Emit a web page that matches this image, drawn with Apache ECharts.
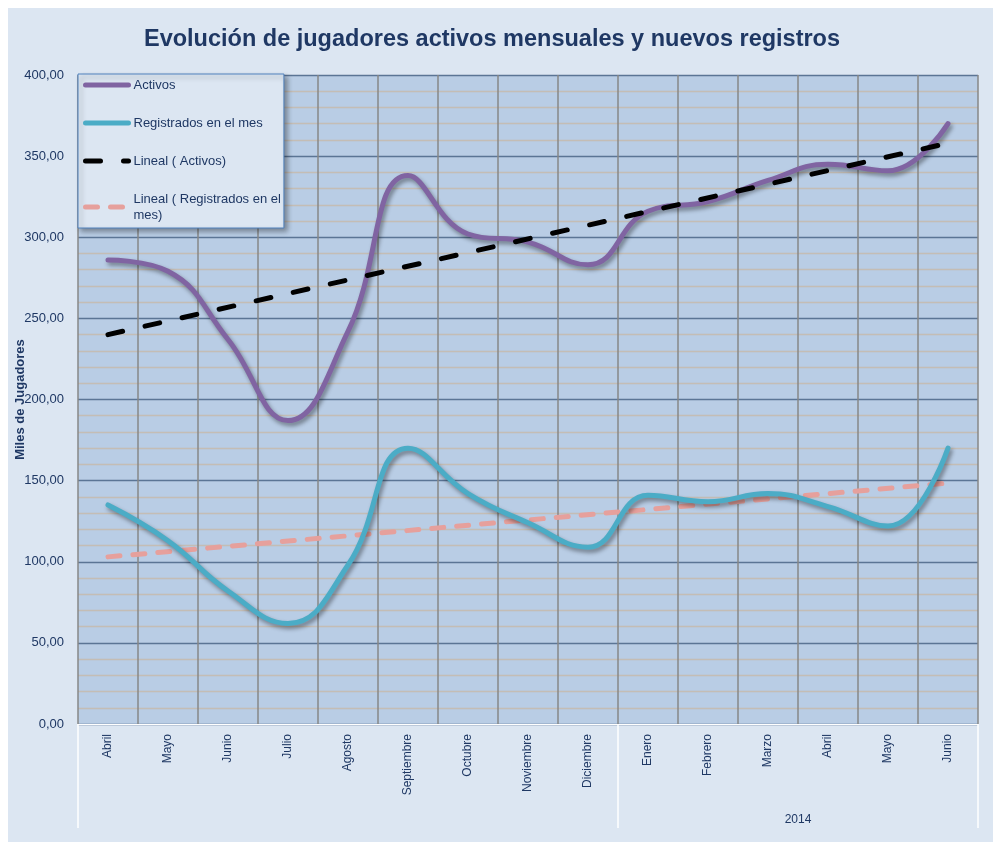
<!DOCTYPE html>
<html>
<head>
<meta charset="utf-8">
<script src="https://cdn.jsdelivr.net/npm/echarts@6/dist/echarts.min.js"></script>
<style>
  html, body { margin: 0; padding: 0; background: #fff; }
  #wrap { position: relative; width: 993px; height: 845px; background: #fff; }
  #panel { position: absolute; left: 8px; top: 8px; right: 0; bottom: 3px; background: #dce6f2; }
  #chart { position: absolute; left: 0; top: 0; width: 993px; height: 845px; }
</style>
</head>
<body>
<div id="wrap">
  <div id="panel"></div>
  <div id="chart"></div>
</div>
<script>
// months shown on the category axis (Apr 2013 - Jun 2014)
const months = ['Abril', 'Mayo', 'Junio', 'Julio', 'Agosto', 'Septiembre', 'Octubre', 'Noviembre',
  'Diciembre', 'Enero', 'Febrero', 'Marzo', 'Abril', 'Mayo', 'Junio']
const yearLabel = '2014'

// thousands of players
const activos = [286, 279, 237, 187, 242, 338, 302, 297, 283, 316, 322, 335, 345, 341, 370]
const registrados = [135, 113, 82, 62, 98, 170, 142, 124, 109, 141, 137, 142, 134, 122, 170]

// linear trend lines: value at first and last month
const trendActivos = [240, 358]
const trendRegistrados = [103, 148.5]

const seriesNames = ['Activos', 'Registrados en el mes', 'Lineal ( Activos)', 'Lineal ( Registrados en el mes)']
const legendLabels = {
  'Lineal ( Registrados en el mes)': 'Lineal ( Registrados en el\nmes)'
}

const textColor = '#1f3864'
const font = 'Liberation Sans, Arial, sans-serif'

function endsOnly(ends) {
  const arr = months.map(() => null)
  arr[0] = ends[0]
  arr[arr.length - 1] = ends[1]
  return arr
}

const shadow = { shadowColor: 'rgba(0,0,0,0.4)', shadowBlur: 4, shadowOffsetX: 2, shadowOffsetY: 3 }

const chart = echarts.init(document.getElementById('chart'))

const option = {
  animation: false,
  title: {
    text: 'Evolución de jugadores activos mensuales y nuevos registros',
    left: 487,
    textAlign: 'center',
    top: 23,
    textStyle: { fontFamily: font, fontSize: 23.5, fontWeight: 'bold', color: textColor }
  },
  legend: {
    orient: 'vertical',
    left: 78,
    top: 74,
    itemWidth: 43,
    itemHeight: 12,
    itemGap: 22,
    padding: [3, 3, 5, 5],
    backgroundColor: '#dce6f2',
    borderColor: '#4f81bd',
    borderWidth: 1,
    shadowColor: 'rgba(0,0,0,0.35)',
    shadowBlur: 5,
    shadowOffsetX: 3,
    shadowOffsetY: 3,
    itemStyle: { opacity: 0 },
    lineStyle: { width: 5 },
    data: seriesNames,
    formatter: name => legendLabels[name] || name,
    textStyle: { fontFamily: font, fontSize: 13, color: textColor, lineHeight: 16 }
  },
  grid: {
    left: 78,
    right: 15,
    top: 75,
    bottom: 121,
    outerBoundsMode: 'none',
    containLabel: false,
    show: true,
    backgroundColor: '#b9cde5',
    borderWidth: 0
  },
  xAxis: {
    type: 'category',
    data: months,
    boundaryGap: true,
    axisLine: { lineStyle: { color: '#ffffff', width: 1 } },
    axisTick: { show: false },
    axisLabel: { rotate: 90, margin: 10, fontFamily: font, fontSize: 12, color: textColor },
    splitLine: { show: true, lineStyle: { color: '#878787', width: 1.5 } }
  },
  yAxis: {
    type: 'value',
    min: 0,
    max: 400,
    interval: 50,
    name: 'Miles de Jugadores',
    nameLocation: 'middle',
    nameGap: 51,
    nameMoveOverlap: false,
    nameTextStyle: { fontFamily: font, fontSize: 13, fontWeight: 'bold', color: textColor },
    axisLine: { show: false },
    axisTick: { show: false },
    axisLabel: {
      margin: 14,
      fontFamily: font,
      fontSize: 13,
      color: textColor,
      formatter: v => v.toFixed(2).replace('.', ',')
    },
    splitLine: { lineStyle: { color: '#5b7595', width: 1.3 } },
    minorTick: { show: false, splitNumber: 5 },
    minorSplitLine: { show: true, lineStyle: { color: '#c4bdb5', width: 1.3 } }
  },
  series: [
    {
      name: seriesNames[0],
      type: 'line',
      data: activos,
      smooth: 0.45,
      symbol: 'none',
      z: 4,
      itemStyle: { color: '#8064a2' },
      lineStyle: Object.assign({ color: '#8064a2', width: 5, cap: 'round' }, shadow)
    },
    {
      name: seriesNames[1],
      type: 'line',
      data: registrados,
      smooth: 0.45,
      symbol: 'none',
      z: 4,
      itemStyle: { color: '#4bacc6' },
      lineStyle: Object.assign({ color: '#4bacc6', width: 5, cap: 'round' }, shadow)
    },
    {
      name: seriesNames[2],
      type: 'line',
      data: endsOnly(trendActivos),
      connectNulls: true,
      symbol: 'none',
      z: 5,
      itemStyle: { color: '#000000' },
      lineStyle: { color: '#000000', width: 5, type: [15, 23], cap: 'round' }
    },
    {
      name: seriesNames[3],
      type: 'line',
      data: endsOnly(trendRegistrados),
      connectNulls: true,
      symbol: 'none',
      z: 3,
      itemStyle: { color: '#e6a09c' },
      lineStyle: { color: '#e6a09c', width: 5, type: [12, 13], cap: 'round' }
    }
  ]
}

chart.setOption(option)

// group separators and year label under the category axis
const p0 = chart.convertToPixel({ xAxisIndex: 0 }, 0)
const p1 = chart.convertToPixel({ xAxisIndex: 0 }, 1)
const step = p1 - p0
const yBase = chart.convertToPixel({ yAxisIndex: 0 }, 0)
const firstYear = months.indexOf('Enero')
const leftEdge = p0 - step / 2
const splitX = chart.convertToPixel({ xAxisIndex: 0 }, firstYear) - step / 2
const rightEdge = chart.convertToPixel({ xAxisIndex: 0 }, months.length - 1) + step / 2
const sepLen = 104

chart.setOption({
  graphic: [
    { type: 'line', shape: { x1: leftEdge, y1: yBase, x2: leftEdge, y2: yBase + sepLen }, style: { stroke: '#ffffff', lineWidth: 1.5 } },
    { type: 'line', shape: { x1: splitX, y1: yBase, x2: splitX, y2: yBase + sepLen }, style: { stroke: '#ffffff', lineWidth: 1.5 } },
    { type: 'line', shape: { x1: rightEdge, y1: yBase, x2: rightEdge, y2: yBase + sepLen }, style: { stroke: '#ffffff', lineWidth: 1.5 } },
    {
      type: 'text',
      x: (splitX + rightEdge) / 2,
      y: yBase + 96,
      style: { text: yearLabel, fill: textColor, font: '12px ' + font, textAlign: 'center', textVerticalAlign: 'middle' }
    }
  ]
})
</script>
</body>
</html>
